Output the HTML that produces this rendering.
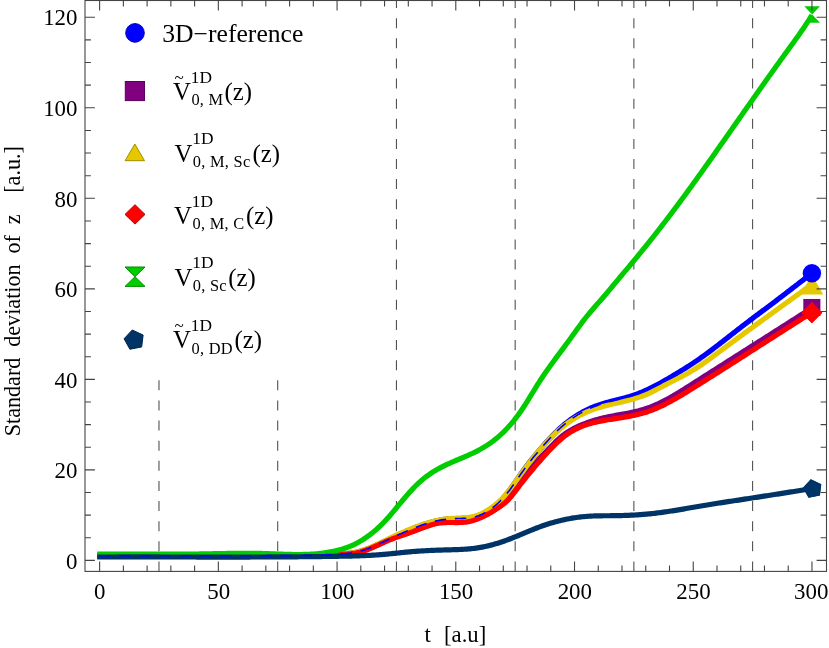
<!DOCTYPE html>
<html><head><meta charset="utf-8"><title>plot</title>
<style>
html,body{margin:0;padding:0;background:#fff;}
body{width:829px;height:648px;overflow:hidden;}
svg{display:block;will-change:transform;}
text{font-family:"Liberation Serif",serif;fill:#000;}
</style></head><body>
<svg width="829" height="648" viewBox="0 0 829 648">
<rect width="829" height="648" fill="#fff"/>
<defs><clipPath id="fc"><rect x="85.0" y="0.5" width="741.5" height="570.9"/></clipPath></defs>
<g clip-path="url(#fc)" stroke="#4a4a4a" stroke-width="1.05" fill="none">
<line x1="396.43" x2="396.43" y1="571.40" y2="-5.00" stroke-dasharray="10 10.12"/>
<line x1="515.16" x2="515.16" y1="571.40" y2="-5.00" stroke-dasharray="10 10.12"/>
<line x1="633.88" x2="633.88" y1="571.40" y2="-5.00" stroke-dasharray="10 10.12"/>
<line x1="752.61" x2="752.61" y1="571.40" y2="-5.00" stroke-dasharray="10 10.12"/>
<line x1="158.98" x2="158.98" y1="571.40" y2="379.80" stroke-dasharray="10 10.12"/>
<line x1="277.71" x2="277.71" y1="571.40" y2="379.80" stroke-dasharray="10 10.12"/>
</g>
<g clip-path="url(#fc)" fill="none" stroke-width="5.2" stroke-linejoin="round" stroke-linecap="square">
<path d="M97.20 555.70 L99.50 555.70 L101.00 555.70 L102.50 555.70 L104.00 555.70 L105.50 555.69 L107.00 555.69 L108.50 555.69 L110.00 555.69 L111.50 555.69 L113.00 555.69 L114.50 555.68 L116.00 555.68 L117.50 555.68 L119.00 555.68 L120.50 555.68 L122.00 555.68 L123.50 555.68 L125.00 555.68 L126.50 555.68 L128.00 555.68 L129.50 555.68 L131.00 555.68 L132.50 555.68 L134.00 555.68 L135.50 555.68 L137.00 555.68 L138.50 555.68 L140.00 555.69 L141.50 555.69 L143.00 555.69 L144.50 555.69 L146.00 555.69 L147.50 555.69 L149.00 555.69 L150.50 555.69 L152.00 555.70 L153.50 555.70 L155.00 555.70 L156.50 555.70 L158.00 555.70 L159.50 555.70 L161.00 555.70 L162.50 555.71 L164.00 555.71 L165.50 555.71 L167.00 555.71 L168.50 555.71 L170.00 555.71 L171.50 555.72 L173.00 555.72 L174.50 555.72 L176.00 555.72 L177.50 555.72 L179.00 555.73 L180.50 555.73 L182.00 555.73 L183.50 555.73 L185.00 555.73 L186.50 555.73 L188.00 555.74 L189.50 555.74 L191.00 555.74 L192.50 555.74 L194.00 555.74 L195.50 555.74 L197.00 555.74 L198.50 555.74 L200.00 555.75 L201.50 555.75 L203.00 555.75 L204.50 555.75 L206.00 555.75 L207.50 555.75 L209.00 555.75 L210.50 555.75 L212.00 555.75 L213.50 555.75 L215.00 555.75 L216.50 555.75 L218.00 555.75 L219.50 555.75 L221.00 555.75 L222.50 555.75 L224.00 555.75 L225.50 555.75 L227.00 555.75 L228.50 555.75 L230.00 555.75 L231.50 555.75 L233.00 555.75 L234.50 555.75 L236.00 555.75 L237.50 555.75 L239.00 555.74 L240.50 555.74 L242.00 555.74 L243.50 555.74 L245.00 555.74 L246.50 555.73 L248.00 555.73 L249.50 555.73 L251.00 555.72 L252.50 555.72 L254.00 555.72 L255.50 555.71 L257.00 555.71 L258.50 555.71 L260.00 555.70 L261.50 555.70 L263.00 555.69 L264.50 555.69 L266.00 555.68 L267.50 555.68 L269.00 555.67 L270.50 555.67 L272.00 555.66 L273.50 555.65 L275.00 555.65 L276.50 555.64 L278.00 555.63 L279.50 555.63 L281.00 555.62 L282.50 555.61 L284.00 555.60 L285.50 555.59 L287.00 555.58 L288.50 555.58 L290.00 555.57 L291.50 555.56 L293.00 555.55 L294.50 555.54 L296.00 555.53 L297.50 555.52 L299.00 555.51 L300.50 555.49 L302.00 555.48 L303.50 555.47 L305.00 555.46 L306.50 555.44 L308.00 555.43 L309.50 555.41 L311.00 555.39 L312.50 555.37 L314.00 555.34 L315.50 555.31 L317.00 555.28 L318.50 555.25 L320.00 555.21 L321.50 555.17 L323.00 555.12 L324.50 555.07 L326.00 555.02 L327.50 554.96 L329.00 554.89 L330.50 554.82 L332.00 554.74 L333.50 554.66 L335.00 554.57 L336.50 554.47 L338.00 554.37 L339.50 554.25 L341.00 554.14 L342.50 554.01 L344.00 553.87 L345.50 553.73 L347.00 553.58 L348.50 553.41 L350.00 553.23 L351.50 553.02 L353.00 552.80 L354.50 552.55 L356.00 552.27 L357.50 551.95 L359.00 551.61 L360.50 551.22 L362.00 550.80 L363.50 550.34 L365.00 549.85 L366.50 549.32 L368.00 548.77 L369.50 548.20 L371.00 547.59 L372.50 546.97 L374.00 546.32 L375.50 545.66 L377.00 544.98 L378.50 544.29 L380.00 543.59 L381.50 542.88 L383.00 542.16 L384.50 541.44 L386.00 540.71 L387.50 539.98 L389.00 539.26 L390.50 538.54 L392.00 537.82 L393.50 537.10 L395.00 536.39 L396.50 535.69 L398.00 534.99 L399.50 534.30 L401.00 533.61 L402.50 532.94 L404.00 532.27 L405.50 531.61 L407.00 530.95 L408.50 530.31 L410.00 529.68 L411.50 529.06 L413.00 528.45 L414.50 527.85 L416.00 527.27 L417.50 526.70 L419.00 526.14 L420.50 525.60 L422.00 525.07 L423.50 524.56 L425.00 524.06 L426.50 523.58 L428.00 523.12 L429.50 522.67 L431.00 522.25 L432.50 521.85 L434.00 521.46 L435.50 521.10 L437.00 520.76 L438.50 520.45 L440.00 520.16 L441.50 519.89 L443.00 519.65 L444.50 519.43 L446.00 519.25 L447.50 519.09 L449.00 518.96 L450.50 518.85 L452.00 518.77 L453.50 518.71 L455.00 518.66 L456.50 518.62 L458.00 518.57 L459.50 518.53 L461.00 518.48 L462.50 518.42 L464.00 518.34 L465.50 518.24 L467.00 518.11 L468.50 517.94 L470.00 517.74 L471.50 517.50 L473.00 517.21 L474.50 516.86 L476.00 516.46 L477.50 516.00 L479.00 515.46 L480.50 514.86 L482.00 514.17 L483.50 513.42 L485.00 512.60 L486.50 511.73 L488.00 510.79 L489.50 509.80 L491.00 508.76 L492.50 507.68 L494.00 506.54 L495.50 505.35 L497.00 504.08 L498.50 502.73 L500.00 501.29 L501.50 499.77 L503.00 498.16 L504.50 496.48 L506.00 494.71 L507.50 492.86 L509.00 490.93 L510.50 488.92 L512.00 486.83 L513.50 484.69 L515.00 482.51 L516.50 480.32 L518.00 478.14 L519.50 475.97 L521.00 473.83 L522.50 471.72 L524.00 469.63 L525.50 467.57 L527.00 465.55 L528.50 463.57 L530.00 461.62 L531.50 459.72 L533.00 457.86 L534.50 456.04 L536.00 454.24 L537.50 452.46 L539.00 450.69 L540.50 448.94 L542.00 447.21 L543.50 445.49 L545.00 443.78 L546.50 442.10 L548.00 440.43 L549.50 438.79 L551.00 437.17 L552.50 435.59 L554.00 434.04 L555.50 432.53 L557.00 431.06 L558.50 429.63 L560.00 428.25 L561.50 426.91 L563.00 425.60 L564.50 424.34 L566.00 423.12 L567.50 421.94 L569.00 420.80 L570.50 419.69 L572.00 418.62 L573.50 417.58 L575.00 416.59 L576.50 415.62 L578.00 414.69 L579.50 413.80 L581.00 412.93 L582.50 412.10 L584.00 411.30 L585.50 410.53 L587.00 409.79 L588.50 409.08 L590.00 408.40 L591.50 407.74 L593.00 407.11 L594.50 406.51 L596.00 405.94 L597.50 405.38 L599.00 404.86 L600.50 404.35 L602.00 403.87 L603.50 403.41 L605.00 402.97 L606.50 402.55 L608.00 402.13 L609.50 401.73 L611.00 401.34 L612.50 400.96 L614.00 400.59 L615.50 400.21 L617.00 399.84 L618.50 399.47 L620.00 399.09 L621.50 398.71 L623.00 398.33 L624.50 397.93 L626.00 397.52 L627.50 397.10 L629.00 396.67 L630.50 396.22 L632.00 395.74 L633.50 395.25 L635.00 394.73 L636.50 394.19 L638.00 393.63 L639.50 393.04 L641.00 392.43 L642.50 391.80 L644.00 391.16 L645.50 390.49 L647.00 389.80 L648.50 389.10 L650.00 388.38 L651.50 387.64 L653.00 386.89 L654.50 386.12 L656.00 385.33 L657.50 384.54 L659.00 383.73 L660.50 382.91 L662.00 382.08 L663.50 381.23 L665.00 380.38 L666.50 379.52 L668.00 378.65 L669.50 377.77 L671.00 376.88 L672.50 375.99 L674.00 375.09 L675.50 374.19 L677.00 373.29 L678.50 372.38 L680.00 371.46 L681.50 370.54 L683.00 369.62 L684.50 368.69 L686.00 367.75 L687.50 366.80 L689.00 365.84 L690.50 364.87 L692.00 363.89 L693.50 362.90 L695.00 361.89 L696.50 360.88 L698.00 359.84 L699.50 358.80 L701.00 357.74 L702.50 356.67 L704.00 355.60 L705.50 354.51 L707.00 353.41 L708.50 352.30 L710.00 351.18 L711.50 350.06 L713.00 348.93 L714.50 347.79 L716.00 346.64 L717.50 345.49 L719.00 344.34 L720.50 343.18 L722.00 342.01 L723.50 340.84 L725.00 339.67 L726.50 338.50 L728.00 337.33 L729.50 336.15 L731.00 334.98 L732.50 333.80 L734.00 332.63 L735.50 331.46 L737.00 330.29 L738.50 329.12 L740.00 327.96 L741.50 326.79 L743.00 325.64 L744.50 324.49 L746.00 323.34 L747.50 322.20 L749.00 321.06 L750.50 319.93 L752.00 318.80 L753.50 317.67 L755.00 316.54 L756.50 315.42 L758.00 314.30 L759.50 313.18 L761.00 312.06 L762.50 310.95 L764.00 309.83 L765.50 308.71 L767.00 307.59 L768.50 306.47 L770.00 305.35 L771.50 304.22 L773.00 303.10 L774.50 301.97 L776.00 300.83 L777.50 299.69 L779.00 298.55 L780.50 297.41 L782.00 296.26 L783.50 295.11 L785.00 293.96 L786.50 292.80 L788.00 291.64 L789.50 290.48 L791.00 289.32 L792.50 288.16 L794.00 287.01 L795.50 285.85 L797.00 284.69 L798.50 283.53 L800.00 282.37 L801.50 281.22 L803.00 280.07 L804.50 278.92 L806.00 277.78 L807.50 276.63 L809.00 275.50 L810.50 274.36 L811.90 273.31" stroke="#0000FF" stroke-linecap="butt"/>
<path d="M97.20 555.70 L99.50 555.70 L101.00 555.70 L102.50 555.70 L104.00 555.70 L105.50 555.70 L107.00 555.69 L108.50 555.69 L110.00 555.69 L111.50 555.69 L113.00 555.69 L114.50 555.69 L116.00 555.69 L117.50 555.69 L119.00 555.69 L120.50 555.69 L122.00 555.69 L123.50 555.69 L125.00 555.69 L126.50 555.69 L128.00 555.69 L129.50 555.69 L131.00 555.69 L132.50 555.69 L134.00 555.69 L135.50 555.69 L137.00 555.69 L138.50 555.69 L140.00 555.69 L141.50 555.69 L143.00 555.69 L144.50 555.69 L146.00 555.69 L147.50 555.69 L149.00 555.69 L150.50 555.70 L152.00 555.70 L153.50 555.70 L155.00 555.70 L156.50 555.70 L158.00 555.70 L159.50 555.70 L161.00 555.70 L162.50 555.70 L164.00 555.70 L165.50 555.71 L167.00 555.71 L168.50 555.71 L170.00 555.71 L171.50 555.71 L173.00 555.71 L174.50 555.71 L176.00 555.71 L177.50 555.72 L179.00 555.72 L180.50 555.72 L182.00 555.72 L183.50 555.72 L185.00 555.72 L186.50 555.72 L188.00 555.72 L189.50 555.72 L191.00 555.72 L192.50 555.73 L194.00 555.73 L195.50 555.73 L197.00 555.73 L198.50 555.73 L200.00 555.73 L201.50 555.73 L203.00 555.73 L204.50 555.73 L206.00 555.73 L207.50 555.73 L209.00 555.73 L210.50 555.73 L212.00 555.73 L213.50 555.73 L215.00 555.74 L216.50 555.74 L218.00 555.74 L219.50 555.74 L221.00 555.74 L222.50 555.74 L224.00 555.73 L225.50 555.73 L227.00 555.73 L228.50 555.73 L230.00 555.73 L231.50 555.73 L233.00 555.73 L234.50 555.73 L236.00 555.73 L237.50 555.73 L239.00 555.73 L240.50 555.73 L242.00 555.72 L243.50 555.72 L245.00 555.72 L246.50 555.72 L248.00 555.72 L249.50 555.72 L251.00 555.71 L252.50 555.71 L254.00 555.71 L255.50 555.71 L257.00 555.70 L258.50 555.70 L260.00 555.70 L261.50 555.70 L263.00 555.69 L264.50 555.69 L266.00 555.68 L267.50 555.68 L269.00 555.68 L270.50 555.67 L272.00 555.67 L273.50 555.66 L275.00 555.66 L276.50 555.66 L278.00 555.65 L279.50 555.65 L281.00 555.64 L282.50 555.64 L284.00 555.63 L285.50 555.62 L287.00 555.62 L288.50 555.61 L290.00 555.61 L291.50 555.60 L293.00 555.59 L294.50 555.59 L296.00 555.58 L297.50 555.57 L299.00 555.56 L300.50 555.56 L302.00 555.55 L303.50 555.54 L305.00 555.53 L306.50 555.52 L308.00 555.51 L309.50 555.49 L311.00 555.48 L312.50 555.46 L314.00 555.44 L315.50 555.42 L317.00 555.39 L318.50 555.36 L320.00 555.33 L321.50 555.29 L323.00 555.25 L324.50 555.21 L326.00 555.16 L327.50 555.11 L329.00 555.05 L330.50 554.98 L332.00 554.91 L333.50 554.84 L335.00 554.75 L336.50 554.67 L338.00 554.57 L339.50 554.47 L341.00 554.36 L342.50 554.24 L344.00 554.12 L345.50 553.98 L347.00 553.84 L348.50 553.68 L350.00 553.51 L351.50 553.32 L353.00 553.10 L354.50 552.86 L356.00 552.58 L357.50 552.27 L359.00 551.92 L360.50 551.53 L362.00 551.10 L363.50 550.63 L365.00 550.12 L366.50 549.59 L368.00 549.02 L369.50 548.43 L371.00 547.81 L372.50 547.18 L374.00 546.52 L375.50 545.86 L377.00 545.18 L378.50 544.49 L380.00 543.79 L381.50 543.09 L383.00 542.40 L384.50 541.70 L386.00 541.01 L387.50 540.33 L389.00 539.66 L390.50 539.00 L392.00 538.36 L393.50 537.73 L395.00 537.11 L396.50 536.51 L398.00 535.93 L399.50 535.37 L401.00 534.82 L402.50 534.29 L404.00 533.78 L405.50 533.29 L407.00 532.82 L408.50 532.37 L410.00 531.93 L411.50 531.49 L413.00 531.03 L414.50 530.54 L416.00 530.02 L417.50 529.48 L419.00 528.92 L420.50 528.35 L422.00 527.77 L423.50 527.20 L425.00 526.62 L426.50 526.06 L428.00 525.51 L429.50 524.97 L431.00 524.47 L432.50 523.99 L434.00 523.56 L435.50 523.16 L437.00 522.81 L438.50 522.51 L440.00 522.27 L441.50 522.08 L443.00 521.94 L444.50 521.85 L446.00 521.79 L447.50 521.76 L449.00 521.75 L450.50 521.76 L452.00 521.78 L453.50 521.81 L455.00 521.84 L456.50 521.86 L458.00 521.86 L459.50 521.85 L461.00 521.81 L462.50 521.74 L464.00 521.63 L465.50 521.48 L467.00 521.27 L468.50 521.01 L470.00 520.69 L471.50 520.32 L473.00 519.89 L474.50 519.41 L476.00 518.89 L477.50 518.32 L479.00 517.71 L480.50 517.07 L482.00 516.39 L483.50 515.68 L485.00 514.94 L486.50 514.19 L488.00 513.40 L489.50 512.60 L491.00 511.76 L492.50 510.89 L494.00 509.96 L495.50 508.98 L497.00 507.93 L498.50 506.81 L500.00 505.61 L501.50 504.32 L503.00 502.95 L504.50 501.50 L506.00 499.98 L507.50 498.40 L509.00 496.75 L510.50 495.05 L512.00 493.29 L513.50 491.48 L515.00 489.63 L516.50 487.75 L518.00 485.83 L519.50 483.88 L521.00 481.91 L522.50 479.93 L524.00 477.94 L525.50 475.95 L527.00 473.96 L528.50 471.99 L530.00 470.03 L531.50 468.10 L533.00 466.20 L534.50 464.33 L536.00 462.51 L537.50 460.74 L539.00 459.03 L540.50 457.38 L542.00 455.79 L543.50 454.25 L545.00 452.73 L546.50 451.21 L548.00 449.69 L549.50 448.13 L551.00 446.56 L552.50 444.99 L554.00 443.45 L555.50 441.94 L557.00 440.49 L558.50 439.11 L560.00 437.79 L561.50 436.53 L563.00 435.34 L564.50 434.20 L566.00 433.13 L567.50 432.12 L569.00 431.16 L570.50 430.26 L572.00 429.40 L573.50 428.58 L575.00 427.81 L576.50 427.08 L578.00 426.38 L579.50 425.71 L581.00 425.08 L582.50 424.46 L584.00 423.88 L585.50 423.31 L587.00 422.75 L588.50 422.22 L590.00 421.70 L591.50 421.20 L593.00 420.72 L594.50 420.25 L596.00 419.80 L597.50 419.38 L599.00 418.97 L600.50 418.57 L602.00 418.20 L603.50 417.84 L605.00 417.50 L606.50 417.17 L608.00 416.86 L609.50 416.55 L611.00 416.26 L612.50 415.97 L614.00 415.69 L615.50 415.42 L617.00 415.14 L618.50 414.87 L620.00 414.61 L621.50 414.34 L623.00 414.07 L624.50 413.79 L626.00 413.51 L627.50 413.23 L629.00 412.93 L630.50 412.63 L632.00 412.32 L633.50 411.99 L635.00 411.65 L636.50 411.30 L638.00 410.93 L639.50 410.54 L641.00 410.13 L642.50 409.70 L644.00 409.25 L645.50 408.77 L647.00 408.27 L648.50 407.75 L650.00 407.20 L651.50 406.61 L653.00 406.01 L654.50 405.38 L656.00 404.72 L657.50 404.04 L659.00 403.34 L660.50 402.62 L662.00 401.88 L663.50 401.12 L665.00 400.34 L666.50 399.54 L668.00 398.73 L669.50 397.90 L671.00 397.05 L672.50 396.20 L674.00 395.32 L675.50 394.44 L677.00 393.55 L678.50 392.64 L680.00 391.73 L681.50 390.80 L683.00 389.87 L684.50 388.93 L686.00 387.99 L687.50 387.04 L689.00 386.09 L690.50 385.14 L692.00 384.18 L693.50 383.22 L695.00 382.26 L696.50 381.31 L698.00 380.35 L699.50 379.39 L701.00 378.43 L702.50 377.48 L704.00 376.52 L705.50 375.57 L707.00 374.61 L708.50 373.66 L710.00 372.70 L711.50 371.75 L713.00 370.79 L714.50 369.84 L716.00 368.89 L717.50 367.93 L719.00 366.98 L720.50 366.03 L722.00 365.08 L723.50 364.12 L725.00 363.17 L726.50 362.22 L728.00 361.27 L729.50 360.32 L731.00 359.36 L732.50 358.41 L734.00 357.46 L735.50 356.51 L737.00 355.56 L738.50 354.61 L740.00 353.66 L741.50 352.71 L743.00 351.76 L744.50 350.81 L746.00 349.85 L747.50 348.90 L749.00 347.95 L750.50 347.00 L752.00 346.05 L753.50 345.10 L755.00 344.15 L756.50 343.20 L758.00 342.25 L759.50 341.29 L761.00 340.34 L762.50 339.39 L764.00 338.44 L765.50 337.48 L767.00 336.53 L768.50 335.58 L770.00 334.63 L771.50 333.67 L773.00 332.72 L774.50 331.77 L776.00 330.81 L777.50 329.86 L779.00 328.90 L780.50 327.95 L782.00 326.99 L783.50 326.03 L785.00 325.08 L786.50 324.12 L788.00 323.16 L789.50 322.21 L791.00 321.25 L792.50 320.29 L794.00 319.33 L795.50 318.37 L797.00 317.41 L798.50 316.45 L800.00 315.49 L801.50 314.53 L803.00 313.57 L804.50 312.60 L806.00 311.64 L807.50 310.67 L809.00 309.71 L810.50 308.75 L811.90 307.84" stroke="#800080" stroke-linecap="butt"/>
<path d="M97.20 555.70 L99.50 555.70 L101.00 555.70 L102.50 555.70 L104.00 555.70 L105.50 555.69 L107.00 555.69 L108.50 555.69 L110.00 555.69 L111.50 555.69 L113.00 555.68 L114.50 555.68 L116.00 555.68 L117.50 555.68 L119.00 555.68 L120.50 555.68 L122.00 555.68 L123.50 555.68 L125.00 555.68 L126.50 555.68 L128.00 555.68 L129.50 555.68 L131.00 555.68 L132.50 555.68 L134.00 555.68 L135.50 555.68 L137.00 555.68 L138.50 555.68 L140.00 555.68 L141.50 555.68 L143.00 555.68 L144.50 555.68 L146.00 555.69 L147.50 555.69 L149.00 555.69 L150.50 555.69 L152.00 555.69 L153.50 555.69 L155.00 555.69 L156.50 555.70 L158.00 555.70 L159.50 555.70 L161.00 555.70 L162.50 555.70 L164.00 555.70 L165.50 555.71 L167.00 555.71 L168.50 555.71 L170.00 555.71 L171.50 555.71 L173.00 555.72 L174.50 555.72 L176.00 555.72 L177.50 555.72 L179.00 555.72 L180.50 555.73 L182.00 555.73 L183.50 555.73 L185.00 555.73 L186.50 555.73 L188.00 555.74 L189.50 555.74 L191.00 555.74 L192.50 555.74 L194.00 555.74 L195.50 555.75 L197.00 555.75 L198.50 555.75 L200.00 555.75 L201.50 555.75 L203.00 555.75 L204.50 555.75 L206.00 555.76 L207.50 555.76 L209.00 555.76 L210.50 555.76 L212.00 555.76 L213.50 555.76 L215.00 555.76 L216.50 555.76 L218.00 555.76 L219.50 555.76 L221.00 555.76 L222.50 555.76 L224.00 555.76 L225.50 555.76 L227.00 555.76 L228.50 555.76 L230.00 555.76 L231.50 555.76 L233.00 555.76 L234.50 555.76 L236.00 555.76 L237.50 555.75 L239.00 555.75 L240.50 555.75 L242.00 555.75 L243.50 555.75 L245.00 555.74 L246.50 555.74 L248.00 555.74 L249.50 555.74 L251.00 555.73 L252.50 555.73 L254.00 555.73 L255.50 555.72 L257.00 555.72 L258.50 555.71 L260.00 555.71 L261.50 555.71 L263.00 555.70 L264.50 555.70 L266.00 555.69 L267.50 555.68 L269.00 555.68 L270.50 555.67 L272.00 555.67 L273.50 555.66 L275.00 555.65 L276.50 555.65 L278.00 555.64 L279.50 555.63 L281.00 555.62 L282.50 555.61 L284.00 555.61 L285.50 555.60 L287.00 555.59 L288.50 555.58 L290.00 555.57 L291.50 555.56 L293.00 555.55 L294.50 555.54 L296.00 555.53 L297.50 555.51 L299.00 555.50 L300.50 555.49 L302.00 555.48 L303.50 555.46 L305.00 555.45 L306.50 555.43 L308.00 555.42 L309.50 555.40 L311.00 555.38 L312.50 555.35 L314.00 555.33 L315.50 555.30 L317.00 555.26 L318.50 555.23 L320.00 555.19 L321.50 555.14 L323.00 555.09 L324.50 555.04 L326.00 554.98 L327.50 554.91 L329.00 554.84 L330.50 554.77 L332.00 554.68 L333.50 554.59 L335.00 554.50 L336.50 554.39 L338.00 554.28 L339.50 554.16 L341.00 554.04 L342.50 553.90 L344.00 553.76 L345.50 553.60 L347.00 553.44 L348.50 553.26 L350.00 553.07 L351.50 552.85 L353.00 552.61 L354.50 552.35 L356.00 552.05 L357.50 551.72 L359.00 551.35 L360.50 550.94 L362.00 550.50 L363.50 550.02 L365.00 549.50 L366.50 548.95 L368.00 548.38 L369.50 547.78 L371.00 547.15 L372.50 546.50 L374.00 545.83 L375.50 545.15 L377.00 544.45 L378.50 543.74 L380.00 543.02 L381.50 542.29 L383.00 541.56 L384.50 540.82 L386.00 540.09 L387.50 539.36 L389.00 538.63 L390.50 537.91 L392.00 537.20 L393.50 536.49 L395.00 535.79 L396.50 535.10 L398.00 534.42 L399.50 533.74 L401.00 533.08 L402.50 532.42 L404.00 531.77 L405.50 531.13 L407.00 530.50 L408.50 529.88 L410.00 529.27 L411.50 528.67 L413.00 528.09 L414.50 527.51 L416.00 526.94 L417.50 526.39 L419.00 525.84 L420.50 525.31 L422.00 524.79 L423.50 524.29 L425.00 523.80 L426.50 523.32 L428.00 522.87 L429.50 522.42 L431.00 522.00 L432.50 521.60 L434.00 521.21 L435.50 520.84 L437.00 520.50 L438.50 520.18 L440.00 519.88 L441.50 519.61 L443.00 519.36 L444.50 519.13 L446.00 518.93 L447.50 518.76 L449.00 518.62 L450.50 518.51 L452.00 518.41 L453.50 518.34 L455.00 518.27 L456.50 518.22 L458.00 518.16 L459.50 518.10 L461.00 518.04 L462.50 517.95 L464.00 517.85 L465.50 517.73 L467.00 517.58 L468.50 517.39 L470.00 517.16 L471.50 516.89 L473.00 516.56 L474.50 516.19 L476.00 515.75 L477.50 515.24 L479.00 514.67 L480.50 514.03 L482.00 513.32 L483.50 512.56 L485.00 511.73 L486.50 510.86 L488.00 509.93 L489.50 508.95 L491.00 507.94 L492.50 506.88 L494.00 505.77 L495.50 504.61 L497.00 503.39 L498.50 502.09 L500.00 500.71 L501.50 499.25 L503.00 497.68 L504.50 496.01 L506.00 494.25 L507.50 492.41 L509.00 490.50 L510.50 488.53 L512.00 486.52 L513.50 484.47 L515.00 482.39 L516.50 480.30 L518.00 478.20 L519.50 476.10 L521.00 474.01 L522.50 471.94 L524.00 469.87 L525.50 467.83 L527.00 465.81 L528.50 463.81 L530.00 461.85 L531.50 459.92 L533.00 458.03 L534.50 456.18 L536.00 454.34 L537.50 452.53 L539.00 450.75 L540.50 449.00 L542.00 447.27 L543.50 445.57 L545.00 443.90 L546.50 442.27 L548.00 440.66 L549.50 439.09 L551.00 437.56 L552.50 436.06 L554.00 434.59 L555.50 433.17 L557.00 431.78 L558.50 430.44 L560.00 429.13 L561.50 427.86 L563.00 426.63 L564.50 425.44 L566.00 424.29 L567.50 423.18 L569.00 422.10 L570.50 421.06 L572.00 420.06 L573.50 419.09 L575.00 418.16 L576.50 417.27 L578.00 416.41 L579.50 415.59 L581.00 414.81 L582.50 414.06 L584.00 413.34 L585.50 412.65 L587.00 411.99 L588.50 411.36 L590.00 410.76 L591.50 410.19 L593.00 409.64 L594.50 409.11 L596.00 408.60 L597.50 408.12 L599.00 407.65 L600.50 407.20 L602.00 406.77 L603.50 406.35 L605.00 405.95 L606.50 405.56 L608.00 405.18 L609.50 404.80 L611.00 404.44 L612.50 404.08 L614.00 403.73 L615.50 403.38 L617.00 403.04 L618.50 402.70 L620.00 402.35 L621.50 402.01 L623.00 401.66 L624.50 401.31 L626.00 400.95 L627.50 400.58 L629.00 400.20 L630.50 399.81 L632.00 399.41 L633.50 398.99 L635.00 398.55 L636.50 398.10 L638.00 397.62 L639.50 397.13 L641.00 396.61 L642.50 396.06 L644.00 395.49 L645.50 394.88 L647.00 394.25 L648.50 393.59 L650.00 392.89 L651.50 392.17 L653.00 391.42 L654.50 390.65 L656.00 389.86 L657.50 389.07 L659.00 388.27 L660.50 387.47 L662.00 386.67 L663.50 385.88 L665.00 385.10 L666.50 384.32 L668.00 383.55 L669.50 382.79 L671.00 382.03 L672.50 381.27 L674.00 380.51 L675.50 379.75 L677.00 378.98 L678.50 378.21 L680.00 377.44 L681.50 376.65 L683.00 375.86 L684.50 375.05 L686.00 374.23 L687.50 373.40 L689.00 372.55 L690.50 371.68 L692.00 370.80 L693.50 369.89 L695.00 368.96 L696.50 368.01 L698.00 367.04 L699.50 366.05 L701.00 365.04 L702.50 364.01 L704.00 362.96 L705.50 361.90 L707.00 360.83 L708.50 359.75 L710.00 358.66 L711.50 357.56 L713.00 356.46 L714.50 355.35 L716.00 354.23 L717.50 353.12 L719.00 352.00 L720.50 350.89 L722.00 349.77 L723.50 348.66 L725.00 347.55 L726.50 346.44 L728.00 345.33 L729.50 344.22 L731.00 343.12 L732.50 342.01 L734.00 340.91 L735.50 339.80 L737.00 338.70 L738.50 337.60 L740.00 336.50 L741.50 335.40 L743.00 334.31 L744.50 333.21 L746.00 332.11 L747.50 331.02 L749.00 329.93 L750.50 328.83 L752.00 327.74 L753.50 326.65 L755.00 325.56 L756.50 324.47 L758.00 323.38 L759.50 322.29 L761.00 321.20 L762.50 320.11 L764.00 319.02 L765.50 317.94 L767.00 316.85 L768.50 315.76 L770.00 314.68 L771.50 313.59 L773.00 312.51 L774.50 311.42 L776.00 310.34 L777.50 309.25 L779.00 308.17 L780.50 307.08 L782.00 306.00 L783.50 304.91 L785.00 303.83 L786.50 302.75 L788.00 301.66 L789.50 300.58 L791.00 299.49 L792.50 298.41 L794.00 297.32 L795.50 296.24 L797.00 295.15 L798.50 294.07 L800.00 292.98 L801.50 291.89 L803.00 290.81 L804.50 289.72 L806.00 288.63 L807.50 287.55 L809.00 286.46 L810.50 285.37 L811.90 284.35" stroke="#E6C800" stroke-linecap="butt"/>
<path d="M97.20 555.70 L99.50 555.70 L101.00 555.70 L102.50 555.70 L104.00 555.70 L105.50 555.69 L107.00 555.69 L108.50 555.69 L110.00 555.69 L111.50 555.69 L113.00 555.69 L114.50 555.68 L116.00 555.68 L117.50 555.68 L119.00 555.68 L120.50 555.68 L122.00 555.68 L123.50 555.68 L125.00 555.68 L126.50 555.68 L128.00 555.68 L129.50 555.68 L131.00 555.68 L132.50 555.68 L134.00 555.68 L135.50 555.68 L137.00 555.68 L138.50 555.68 L140.00 555.68 L141.50 555.68 L143.00 555.68 L144.50 555.68 L146.00 555.68 L147.50 555.69 L149.00 555.69 L150.50 555.69 L152.00 555.69 L153.50 555.69 L155.00 555.69 L156.50 555.69 L158.00 555.69 L159.50 555.70 L161.00 555.70 L162.50 555.70 L164.00 555.70 L165.50 555.70 L167.00 555.70 L168.50 555.71 L170.00 555.71 L171.50 555.71 L173.00 555.71 L174.50 555.71 L176.00 555.71 L177.50 555.72 L179.00 555.72 L180.50 555.72 L182.00 555.72 L183.50 555.72 L185.00 555.73 L186.50 555.73 L188.00 555.73 L189.50 555.73 L191.00 555.73 L192.50 555.73 L194.00 555.73 L195.50 555.74 L197.00 555.74 L198.50 555.74 L200.00 555.74 L201.50 555.74 L203.00 555.74 L204.50 555.74 L206.00 555.75 L207.50 555.75 L209.00 555.75 L210.50 555.75 L212.00 555.75 L213.50 555.75 L215.00 555.75 L216.50 555.75 L218.00 555.75 L219.50 555.75 L221.00 555.75 L222.50 555.75 L224.00 555.75 L225.50 555.75 L227.00 555.75 L228.50 555.75 L230.00 555.75 L231.50 555.75 L233.00 555.75 L234.50 555.75 L236.00 555.75 L237.50 555.75 L239.00 555.75 L240.50 555.75 L242.00 555.74 L243.50 555.74 L245.00 555.74 L246.50 555.74 L248.00 555.74 L249.50 555.73 L251.00 555.73 L252.50 555.73 L254.00 555.73 L255.50 555.72 L257.00 555.72 L258.50 555.72 L260.00 555.71 L261.50 555.71 L263.00 555.71 L264.50 555.70 L266.00 555.70 L267.50 555.69 L269.00 555.69 L270.50 555.68 L272.00 555.68 L273.50 555.67 L275.00 555.67 L276.50 555.66 L278.00 555.65 L279.50 555.65 L281.00 555.64 L282.50 555.63 L284.00 555.63 L285.50 555.62 L287.00 555.61 L288.50 555.60 L290.00 555.60 L291.50 555.59 L293.00 555.58 L294.50 555.57 L296.00 555.56 L297.50 555.55 L299.00 555.54 L300.50 555.53 L302.00 555.52 L303.50 555.51 L305.00 555.50 L306.50 555.49 L308.00 555.47 L309.50 555.46 L311.00 555.44 L312.50 555.42 L314.00 555.40 L315.50 555.38 L317.00 555.35 L318.50 555.33 L320.00 555.30 L321.50 555.26 L323.00 555.23 L324.50 555.19 L326.00 555.14 L327.50 555.10 L329.00 555.05 L330.50 554.99 L332.00 554.93 L333.50 554.87 L335.00 554.80 L336.50 554.72 L338.00 554.65 L339.50 554.56 L341.00 554.47 L342.50 554.38 L344.00 554.28 L345.50 554.17 L347.00 554.05 L348.50 553.92 L350.00 553.78 L351.50 553.62 L353.00 553.42 L354.50 553.20 L356.00 552.95 L357.50 552.66 L359.00 552.32 L360.50 551.94 L362.00 551.51 L363.50 551.04 L365.00 550.54 L366.50 549.99 L368.00 549.42 L369.50 548.82 L371.00 548.20 L372.50 547.55 L374.00 546.90 L375.50 546.22 L377.00 545.54 L378.50 544.86 L380.00 544.17 L381.50 543.48 L383.00 542.80 L384.50 542.13 L386.00 541.47 L387.50 540.82 L389.00 540.20 L390.50 539.60 L392.00 539.01 L393.50 538.45 L395.00 537.89 L396.50 537.35 L398.00 536.82 L399.50 536.30 L401.00 535.78 L402.50 535.26 L404.00 534.75 L405.50 534.24 L407.00 533.72 L408.50 533.20 L410.00 532.67 L411.50 532.13 L413.00 531.58 L414.50 531.01 L416.00 530.44 L417.50 529.86 L419.00 529.27 L420.50 528.69 L422.00 528.12 L423.50 527.55 L425.00 526.99 L426.50 526.45 L428.00 525.94 L429.50 525.44 L431.00 524.98 L432.50 524.54 L434.00 524.14 L435.50 523.79 L437.00 523.47 L438.50 523.20 L440.00 522.98 L441.50 522.81 L443.00 522.69 L444.50 522.60 L446.00 522.54 L447.50 522.51 L449.00 522.49 L450.50 522.50 L452.00 522.51 L453.50 522.52 L455.00 522.54 L456.50 522.54 L458.00 522.54 L459.50 522.51 L461.00 522.46 L462.50 522.38 L464.00 522.26 L465.50 522.11 L467.00 521.90 L468.50 521.65 L470.00 521.34 L471.50 520.98 L473.00 520.56 L474.50 520.10 L476.00 519.59 L477.50 519.04 L479.00 518.44 L480.50 517.81 L482.00 517.13 L483.50 516.42 L485.00 515.67 L486.50 514.89 L488.00 514.09 L489.50 513.25 L491.00 512.38 L492.50 511.48 L494.00 510.56 L495.50 509.61 L497.00 508.63 L498.50 507.63 L500.00 506.60 L501.50 505.54 L503.00 504.42 L504.50 503.24 L506.00 501.95 L507.50 500.56 L509.00 499.03 L510.50 497.34 L512.00 495.52 L513.50 493.60 L515.00 491.62 L516.50 489.62 L518.00 487.64 L519.50 485.68 L521.00 483.74 L522.50 481.82 L524.00 479.93 L525.50 478.05 L527.00 476.20 L528.50 474.36 L530.00 472.54 L531.50 470.74 L533.00 468.96 L534.50 467.18 L536.00 465.43 L537.50 463.68 L539.00 461.95 L540.50 460.23 L542.00 458.51 L543.50 456.82 L545.00 455.13 L546.50 453.47 L548.00 451.84 L549.50 450.23 L551.00 448.64 L552.50 447.09 L554.00 445.58 L555.50 444.11 L557.00 442.68 L558.50 441.29 L560.00 439.95 L561.50 438.67 L563.00 437.44 L564.50 436.26 L566.00 435.15 L567.50 434.09 L569.00 433.09 L570.50 432.14 L572.00 431.24 L573.50 430.38 L575.00 429.58 L576.50 428.82 L578.00 428.10 L579.50 427.42 L581.00 426.78 L582.50 426.18 L584.00 425.61 L585.50 425.08 L587.00 424.58 L588.50 424.11 L590.00 423.66 L591.50 423.25 L593.00 422.85 L594.50 422.48 L596.00 422.13 L597.50 421.79 L599.00 421.47 L600.50 421.17 L602.00 420.87 L603.50 420.59 L605.00 420.32 L606.50 420.06 L608.00 419.81 L609.50 419.56 L611.00 419.32 L612.50 419.08 L614.00 418.84 L615.50 418.61 L617.00 418.38 L618.50 418.14 L620.00 417.90 L621.50 417.66 L623.00 417.42 L624.50 417.17 L626.00 416.91 L627.50 416.65 L629.00 416.37 L630.50 416.09 L632.00 415.79 L633.50 415.48 L635.00 415.16 L636.50 414.82 L638.00 414.47 L639.50 414.09 L641.00 413.70 L642.50 413.29 L644.00 412.85 L645.50 412.40 L647.00 411.92 L648.50 411.41 L650.00 410.88 L651.50 410.32 L653.00 409.74 L654.50 409.14 L656.00 408.51 L657.50 407.86 L659.00 407.19 L660.50 406.50 L662.00 405.79 L663.50 405.06 L665.00 404.31 L666.50 403.55 L668.00 402.77 L669.50 401.97 L671.00 401.16 L672.50 400.33 L674.00 399.49 L675.50 398.64 L677.00 397.78 L678.50 396.91 L680.00 396.03 L681.50 395.14 L683.00 394.24 L684.50 393.33 L686.00 392.42 L687.50 391.50 L689.00 390.57 L690.50 389.64 L692.00 388.71 L693.50 387.78 L695.00 386.84 L696.50 385.90 L698.00 384.97 L699.50 384.03 L701.00 383.09 L702.50 382.14 L704.00 381.20 L705.50 380.26 L707.00 379.31 L708.50 378.37 L710.00 377.42 L711.50 376.47 L713.00 375.53 L714.50 374.58 L716.00 373.63 L717.50 372.68 L719.00 371.73 L720.50 370.78 L722.00 369.82 L723.50 368.87 L725.00 367.92 L726.50 366.96 L728.00 366.01 L729.50 365.05 L731.00 364.10 L732.50 363.14 L734.00 362.19 L735.50 361.23 L737.00 360.27 L738.50 359.31 L740.00 358.35 L741.50 357.40 L743.00 356.44 L744.50 355.48 L746.00 354.52 L747.50 353.56 L749.00 352.60 L750.50 351.64 L752.00 350.68 L753.50 349.72 L755.00 348.76 L756.50 347.80 L758.00 346.84 L759.50 345.88 L761.00 344.92 L762.50 343.96 L764.00 343.00 L765.50 342.04 L767.00 341.08 L768.50 340.12 L770.00 339.16 L771.50 338.20 L773.00 337.24 L774.50 336.28 L776.00 335.33 L777.50 334.37 L779.00 333.41 L780.50 332.45 L782.00 331.49 L783.50 330.54 L785.00 329.58 L786.50 328.63 L788.00 327.67 L789.50 326.72 L791.00 325.76 L792.50 324.81 L794.00 323.86 L795.50 322.90 L797.00 321.95 L798.50 321.00 L800.00 320.05 L801.50 319.10 L803.00 318.15 L804.50 317.20 L806.00 316.26 L807.50 315.31 L809.00 314.36 L810.50 313.42 L811.90 312.54" stroke="#FF0000" stroke-linecap="butt"/>
<path d="M97.20 554.10 L99.50 554.10 L101.00 554.09 L102.50 554.07 L104.00 554.06 L105.50 554.05 L107.00 554.03 L108.50 554.03 L110.00 554.02 L111.50 554.01 L113.00 554.00 L114.50 554.00 L116.00 554.00 L117.50 553.99 L119.00 553.99 L120.50 553.99 L122.00 553.99 L123.50 553.99 L125.00 553.99 L126.50 553.99 L128.00 554.00 L129.50 554.00 L131.00 554.00 L132.50 554.01 L134.00 554.01 L135.50 554.02 L137.00 554.03 L138.50 554.03 L140.00 554.04 L141.50 554.04 L143.00 554.05 L144.50 554.06 L146.00 554.07 L147.50 554.07 L149.00 554.08 L150.50 554.09 L152.00 554.09 L153.50 554.10 L155.00 554.11 L156.50 554.11 L158.00 554.12 L159.50 554.12 L161.00 554.13 L162.50 554.13 L164.00 554.14 L165.50 554.14 L167.00 554.15 L168.50 554.15 L170.00 554.15 L171.50 554.15 L173.00 554.15 L174.50 554.15 L176.00 554.15 L177.50 554.15 L179.00 554.15 L180.50 554.14 L182.00 554.14 L183.50 554.13 L185.00 554.12 L186.50 554.11 L188.00 554.10 L189.50 554.09 L191.00 554.08 L192.50 554.07 L194.00 554.05 L195.50 554.03 L197.00 554.02 L198.50 554.00 L200.00 553.97 L201.50 553.95 L203.00 553.93 L204.50 553.90 L206.00 553.87 L207.50 553.84 L209.00 553.81 L210.50 553.78 L212.00 553.75 L213.50 553.72 L215.00 553.69 L216.50 553.66 L218.00 553.63 L219.50 553.60 L221.00 553.57 L222.50 553.54 L224.00 553.51 L225.50 553.48 L227.00 553.45 L228.50 553.42 L230.00 553.40 L231.50 553.38 L233.00 553.35 L234.50 553.33 L236.00 553.31 L237.50 553.30 L239.00 553.28 L240.50 553.27 L242.00 553.26 L243.50 553.26 L245.00 553.26 L246.50 553.26 L248.00 553.26 L249.50 553.26 L251.00 553.27 L252.50 553.29 L254.00 553.31 L255.50 553.33 L257.00 553.35 L258.50 553.38 L260.00 553.42 L261.50 553.46 L263.00 553.50 L264.50 553.55 L266.00 553.60 L267.50 553.65 L269.00 553.70 L270.50 553.76 L272.00 553.82 L273.50 553.88 L275.00 553.93 L276.50 553.99 L278.00 554.05 L279.50 554.11 L281.00 554.16 L282.50 554.21 L284.00 554.26 L285.50 554.31 L287.00 554.35 L288.50 554.39 L290.00 554.43 L291.50 554.45 L293.00 554.48 L294.50 554.50 L296.00 554.51 L297.50 554.51 L299.00 554.51 L300.50 554.50 L302.00 554.48 L303.50 554.45 L305.00 554.41 L306.50 554.37 L308.00 554.31 L309.50 554.24 L311.00 554.16 L312.50 554.07 L314.00 553.97 L315.50 553.85 L317.00 553.73 L318.50 553.58 L320.00 553.43 L321.50 553.26 L323.00 553.07 L324.50 552.87 L326.00 552.65 L327.50 552.42 L329.00 552.17 L330.50 551.90 L332.00 551.61 L333.50 551.30 L335.00 550.98 L336.50 550.63 L338.00 550.26 L339.50 549.86 L341.00 549.44 L342.50 549.00 L344.00 548.52 L345.50 548.01 L347.00 547.48 L348.50 546.91 L350.00 546.31 L351.50 545.68 L353.00 545.01 L354.50 544.30 L356.00 543.55 L357.50 542.77 L359.00 541.94 L360.50 541.08 L362.00 540.18 L363.50 539.23 L365.00 538.24 L366.50 537.22 L368.00 536.15 L369.50 535.04 L371.00 533.88 L372.50 532.69 L374.00 531.45 L375.50 530.17 L377.00 528.84 L378.50 527.47 L380.00 526.05 L381.50 524.59 L383.00 523.09 L384.50 521.54 L386.00 519.95 L387.50 518.31 L389.00 516.64 L390.50 514.93 L392.00 513.18 L393.50 511.40 L395.00 509.60 L396.50 507.77 L398.00 505.94 L399.50 504.12 L401.00 502.30 L402.50 500.50 L404.00 498.72 L405.50 496.95 L407.00 495.22 L408.50 493.51 L410.00 491.84 L411.50 490.20 L413.00 488.60 L414.50 487.05 L416.00 485.54 L417.50 484.08 L419.00 482.67 L420.50 481.32 L422.00 480.02 L423.50 478.78 L425.00 477.58 L426.50 476.43 L428.00 475.33 L429.50 474.27 L431.00 473.25 L432.50 472.28 L434.00 471.33 L435.50 470.43 L437.00 469.56 L438.50 468.71 L440.00 467.90 L441.50 467.11 L443.00 466.35 L444.50 465.61 L446.00 464.89 L447.50 464.19 L449.00 463.51 L450.50 462.84 L452.00 462.18 L453.50 461.53 L455.00 460.89 L456.50 460.25 L458.00 459.62 L459.50 458.99 L461.00 458.36 L462.50 457.73 L464.00 457.09 L465.50 456.44 L467.00 455.79 L468.50 455.13 L470.00 454.45 L471.50 453.76 L473.00 453.05 L474.50 452.33 L476.00 451.58 L477.50 450.82 L479.00 450.02 L480.50 449.21 L482.00 448.36 L483.50 447.48 L485.00 446.58 L486.50 445.63 L488.00 444.66 L489.50 443.64 L491.00 442.58 L492.50 441.49 L494.00 440.35 L495.50 439.16 L497.00 437.93 L498.50 436.66 L500.00 435.34 L501.50 433.96 L503.00 432.54 L504.50 431.06 L506.00 429.53 L507.50 427.95 L509.00 426.31 L510.50 424.61 L512.00 422.85 L513.50 421.03 L515.00 419.15 L516.50 417.21 L518.00 415.20 L519.50 413.13 L521.00 410.99 L522.50 408.78 L524.00 406.50 L525.50 404.16 L527.00 401.77 L528.50 399.35 L530.00 396.91 L531.50 394.45 L533.00 391.98 L534.50 389.53 L536.00 387.09 L537.50 384.68 L539.00 382.32 L540.50 380.00 L542.00 377.73 L543.50 375.49 L545.00 373.30 L546.50 371.13 L548.00 369.00 L549.50 366.89 L551.00 364.81 L552.50 362.74 L554.00 360.70 L555.50 358.66 L557.00 356.64 L558.50 354.62 L560.00 352.61 L561.50 350.60 L563.00 348.59 L564.50 346.58 L566.00 344.55 L567.50 342.52 L569.00 340.47 L570.50 338.41 L572.00 336.33 L573.50 334.25 L575.00 332.16 L576.50 330.08 L578.00 328.01 L579.50 325.96 L581.00 323.92 L582.50 321.92 L584.00 319.95 L585.50 318.01 L587.00 316.13 L588.50 314.28 L590.00 312.48 L591.50 310.71 L593.00 308.97 L594.50 307.25 L596.00 305.54 L597.50 303.84 L599.00 302.13 L600.50 300.43 L602.00 298.71 L603.50 296.97 L605.00 295.22 L606.50 293.45 L608.00 291.66 L609.50 289.87 L611.00 288.07 L612.50 286.27 L614.00 284.46 L615.50 282.66 L617.00 280.85 L618.50 279.06 L620.00 277.26 L621.50 275.48 L623.00 273.69 L624.50 271.91 L626.00 270.13 L627.50 268.35 L629.00 266.56 L630.50 264.77 L632.00 262.98 L633.50 261.18 L635.00 259.37 L636.50 257.55 L638.00 255.73 L639.50 253.90 L641.00 252.07 L642.50 250.23 L644.00 248.38 L645.50 246.52 L647.00 244.66 L648.50 242.79 L650.00 240.91 L651.50 239.03 L653.00 237.14 L654.50 235.24 L656.00 233.33 L657.50 231.42 L659.00 229.50 L660.50 227.57 L662.00 225.64 L663.50 223.69 L665.00 221.74 L666.50 219.78 L668.00 217.82 L669.50 215.85 L671.00 213.87 L672.50 211.88 L674.00 209.88 L675.50 207.88 L677.00 205.87 L678.50 203.85 L680.00 201.83 L681.50 199.80 L683.00 197.77 L684.50 195.72 L686.00 193.68 L687.50 191.62 L689.00 189.56 L690.50 187.50 L692.00 185.43 L693.50 183.35 L695.00 181.27 L696.50 179.19 L698.00 177.10 L699.50 175.01 L701.00 172.91 L702.50 170.81 L704.00 168.70 L705.50 166.60 L707.00 164.48 L708.50 162.37 L710.00 160.25 L711.50 158.13 L713.00 156.00 L714.50 153.88 L716.00 151.75 L717.50 149.62 L719.00 147.49 L720.50 145.35 L722.00 143.21 L723.50 141.08 L725.00 138.94 L726.50 136.80 L728.00 134.66 L729.50 132.51 L731.00 130.37 L732.50 128.23 L734.00 126.09 L735.50 123.94 L737.00 121.80 L738.50 119.66 L740.00 117.52 L741.50 115.38 L743.00 113.23 L744.50 111.10 L746.00 108.96 L747.50 106.82 L749.00 104.69 L750.50 102.55 L752.00 100.42 L753.50 98.29 L755.00 96.16 L756.50 94.04 L758.00 91.92 L759.50 89.79 L761.00 87.68 L762.50 85.56 L764.00 83.44 L765.50 81.33 L767.00 79.22 L768.50 77.11 L770.00 75.01 L771.50 72.90 L773.00 70.80 L774.50 68.71 L776.00 66.61 L777.50 64.52 L779.00 62.43 L780.50 60.34 L782.00 58.26 L783.50 56.18 L785.00 54.10 L786.50 52.03 L788.00 49.95 L789.50 47.89 L791.00 45.82 L792.50 43.75 L794.00 41.68 L795.50 39.60 L797.00 37.51 L798.50 35.40 L800.00 33.26 L801.50 31.11 L803.00 28.92 L804.50 26.70 L806.00 24.43 L807.50 22.13 L809.00 19.78 L810.50 17.38 L811.90 15.09" stroke="#00CC00" stroke-linecap="butt"/>
<path d="M97.20 557.02 L99.50 557.02 L101.00 557.01 L102.50 557.01 L104.00 557.00 L105.50 557.00 L107.00 556.99 L108.50 556.99 L110.00 556.99 L111.50 556.98 L113.00 556.98 L114.50 556.98 L116.00 556.98 L117.50 556.97 L119.00 556.97 L120.50 556.97 L122.00 556.97 L123.50 556.97 L125.00 556.96 L126.50 556.96 L128.00 556.96 L129.50 556.96 L131.00 556.96 L132.50 556.96 L134.00 556.96 L135.50 556.96 L137.00 556.96 L138.50 556.96 L140.00 556.96 L141.50 556.96 L143.00 556.96 L144.50 556.96 L146.00 556.96 L147.50 556.96 L149.00 556.96 L150.50 556.97 L152.00 556.97 L153.50 556.97 L155.00 556.97 L156.50 556.97 L158.00 556.97 L159.50 556.97 L161.00 556.98 L162.50 556.98 L164.00 556.98 L165.50 556.98 L167.00 556.98 L168.50 556.99 L170.00 556.99 L171.50 556.99 L173.00 556.99 L174.50 556.99 L176.00 557.00 L177.50 557.00 L179.00 557.00 L180.50 557.00 L182.00 557.01 L183.50 557.01 L185.00 557.01 L186.50 557.01 L188.00 557.01 L189.50 557.02 L191.00 557.02 L192.50 557.02 L194.00 557.02 L195.50 557.02 L197.00 557.03 L198.50 557.03 L200.00 557.03 L201.50 557.03 L203.00 557.03 L204.50 557.04 L206.00 557.04 L207.50 557.04 L209.00 557.04 L210.50 557.04 L212.00 557.04 L213.50 557.04 L215.00 557.04 L216.50 557.04 L218.00 557.05 L219.50 557.05 L221.00 557.05 L222.50 557.05 L224.00 557.05 L225.50 557.05 L227.00 557.05 L228.50 557.05 L230.00 557.05 L231.50 557.05 L233.00 557.05 L234.50 557.04 L236.00 557.04 L237.50 557.04 L239.00 557.04 L240.50 557.04 L242.00 557.04 L243.50 557.04 L245.00 557.03 L246.50 557.03 L248.00 557.03 L249.50 557.03 L251.00 557.02 L252.50 557.02 L254.00 557.02 L255.50 557.01 L257.00 557.01 L258.50 557.00 L260.00 557.00 L261.50 556.99 L263.00 556.99 L264.50 556.98 L266.00 556.98 L267.50 556.97 L269.00 556.97 L270.50 556.96 L272.00 556.95 L273.50 556.95 L275.00 556.94 L276.50 556.93 L278.00 556.92 L279.50 556.91 L281.00 556.91 L282.50 556.90 L284.00 556.89 L285.50 556.88 L287.00 556.87 L288.50 556.86 L290.00 556.85 L291.50 556.84 L293.00 556.82 L294.50 556.81 L296.00 556.80 L297.50 556.79 L299.00 556.77 L300.50 556.76 L302.00 556.75 L303.50 556.73 L305.00 556.72 L306.50 556.70 L308.00 556.69 L309.50 556.67 L311.00 556.66 L312.50 556.64 L314.00 556.62 L315.50 556.61 L317.00 556.59 L318.50 556.57 L320.00 556.55 L321.50 556.53 L323.00 556.51 L324.50 556.49 L326.00 556.47 L327.50 556.45 L329.00 556.43 L330.50 556.41 L332.00 556.38 L333.50 556.36 L335.00 556.34 L336.50 556.31 L338.00 556.29 L339.50 556.26 L341.00 556.24 L342.50 556.21 L344.00 556.18 L345.50 556.15 L347.00 556.12 L348.50 556.09 L350.00 556.06 L351.50 556.03 L353.00 555.99 L354.50 555.95 L356.00 555.91 L357.50 555.86 L359.00 555.81 L360.50 555.76 L362.00 555.71 L363.50 555.65 L365.00 555.59 L366.50 555.52 L368.00 555.45 L369.50 555.37 L371.00 555.29 L372.50 555.21 L374.00 555.12 L375.50 555.02 L377.00 554.92 L378.50 554.81 L380.00 554.70 L381.50 554.58 L383.00 554.46 L384.50 554.32 L386.00 554.19 L387.50 554.05 L389.00 553.90 L390.50 553.75 L392.00 553.60 L393.50 553.44 L395.00 553.29 L396.50 553.13 L398.00 552.97 L399.50 552.82 L401.00 552.66 L402.50 552.51 L404.00 552.36 L405.50 552.21 L407.00 552.06 L408.50 551.92 L410.00 551.79 L411.50 551.66 L413.00 551.53 L414.50 551.41 L416.00 551.30 L417.50 551.19 L419.00 551.09 L420.50 551.00 L422.00 550.91 L423.50 550.82 L425.00 550.74 L426.50 550.66 L428.00 550.59 L429.50 550.52 L431.00 550.45 L432.50 550.39 L434.00 550.33 L435.50 550.27 L437.00 550.21 L438.50 550.16 L440.00 550.11 L441.50 550.06 L443.00 550.01 L444.50 549.97 L446.00 549.92 L447.50 549.88 L449.00 549.83 L450.50 549.79 L452.00 549.75 L453.50 549.70 L455.00 549.65 L456.50 549.60 L458.00 549.54 L459.50 549.48 L461.00 549.41 L462.50 549.34 L464.00 549.25 L465.50 549.15 L467.00 549.05 L468.50 548.93 L470.00 548.80 L471.50 548.65 L473.00 548.49 L474.50 548.31 L476.00 548.12 L477.50 547.91 L479.00 547.67 L480.50 547.42 L482.00 547.15 L483.50 546.86 L485.00 546.54 L486.50 546.21 L488.00 545.86 L489.50 545.49 L491.00 545.11 L492.50 544.70 L494.00 544.28 L495.50 543.85 L497.00 543.39 L498.50 542.93 L500.00 542.44 L501.50 541.95 L503.00 541.44 L504.50 540.92 L506.00 540.38 L507.50 539.84 L509.00 539.28 L510.50 538.71 L512.00 538.13 L513.50 537.54 L515.00 536.94 L516.50 536.33 L518.00 535.72 L519.50 535.10 L521.00 534.47 L522.50 533.84 L524.00 533.21 L525.50 532.58 L527.00 531.96 L528.50 531.33 L530.00 530.71 L531.50 530.09 L533.00 529.48 L534.50 528.88 L536.00 528.29 L537.50 527.71 L539.00 527.15 L540.50 526.59 L542.00 526.06 L543.50 525.53 L545.00 525.02 L546.50 524.52 L548.00 524.04 L549.50 523.57 L551.00 523.11 L552.50 522.67 L554.00 522.24 L555.50 521.82 L557.00 521.42 L558.50 521.03 L560.00 520.66 L561.50 520.30 L563.00 519.95 L564.50 519.62 L566.00 519.30 L567.50 519.00 L569.00 518.71 L570.50 518.44 L572.00 518.18 L573.50 517.93 L575.00 517.70 L576.50 517.48 L578.00 517.27 L579.50 517.08 L581.00 516.91 L582.50 516.75 L584.00 516.60 L585.50 516.47 L587.00 516.35 L588.50 516.25 L590.00 516.16 L591.50 516.08 L593.00 516.02 L594.50 515.96 L596.00 515.91 L597.50 515.87 L599.00 515.84 L600.50 515.81 L602.00 515.79 L603.50 515.77 L605.00 515.76 L606.50 515.75 L608.00 515.74 L609.50 515.73 L611.00 515.72 L612.50 515.70 L614.00 515.69 L615.50 515.67 L617.00 515.65 L618.50 515.62 L620.00 515.59 L621.50 515.55 L623.00 515.51 L624.50 515.46 L626.00 515.41 L627.50 515.35 L629.00 515.29 L630.50 515.22 L632.00 515.14 L633.50 515.06 L635.00 514.98 L636.50 514.89 L638.00 514.79 L639.50 514.69 L641.00 514.58 L642.50 514.46 L644.00 514.34 L645.50 514.21 L647.00 514.08 L648.50 513.94 L650.00 513.79 L651.50 513.64 L653.00 513.47 L654.50 513.30 L656.00 513.13 L657.50 512.95 L659.00 512.76 L660.50 512.56 L662.00 512.36 L663.50 512.15 L665.00 511.94 L666.50 511.72 L668.00 511.50 L669.50 511.27 L671.00 511.04 L672.50 510.81 L674.00 510.57 L675.50 510.33 L677.00 510.08 L678.50 509.83 L680.00 509.58 L681.50 509.33 L683.00 509.08 L684.50 508.82 L686.00 508.56 L687.50 508.30 L689.00 508.04 L690.50 507.78 L692.00 507.52 L693.50 507.26 L695.00 507.00 L696.50 506.74 L698.00 506.49 L699.50 506.23 L701.00 505.97 L702.50 505.72 L704.00 505.47 L705.50 505.22 L707.00 504.97 L708.50 504.72 L710.00 504.48 L711.50 504.24 L713.00 504.00 L714.50 503.76 L716.00 503.52 L717.50 503.29 L719.00 503.05 L720.50 502.82 L722.00 502.59 L723.50 502.36 L725.00 502.13 L726.50 501.90 L728.00 501.67 L729.50 501.44 L731.00 501.22 L732.50 500.99 L734.00 500.76 L735.50 500.53 L737.00 500.31 L738.50 500.08 L740.00 499.85 L741.50 499.62 L743.00 499.39 L744.50 499.16 L746.00 498.93 L747.50 498.70 L749.00 498.48 L750.50 498.25 L752.00 498.02 L753.50 497.79 L755.00 497.55 L756.50 497.32 L758.00 497.09 L759.50 496.86 L761.00 496.63 L762.50 496.40 L764.00 496.17 L765.50 495.93 L767.00 495.70 L768.50 495.47 L770.00 495.23 L771.50 495.00 L773.00 494.77 L774.50 494.53 L776.00 494.30 L777.50 494.06 L779.00 493.83 L780.50 493.59 L782.00 493.36 L783.50 493.12 L785.00 492.89 L786.50 492.65 L788.00 492.41 L789.50 492.18 L791.00 491.94 L792.50 491.70 L794.00 491.46 L795.50 491.22 L797.00 490.98 L798.50 490.74 L800.00 490.50 L801.50 490.26 L803.00 490.02 L804.50 489.78 L806.00 489.54 L807.50 489.30 L809.00 489.06 L810.50 488.82 L811.90 488.59" stroke="#003366" stroke-linecap="butt"/>
<path d="M99.50 555.70 L101.00 555.70 L102.50 555.70 L104.00 555.70 L105.50 555.69 L107.00 555.69 L108.50 555.69 L110.00 555.69 L111.50 555.69 L113.00 555.69 L114.50 555.68 L116.00 555.68 L117.50 555.68 L119.00 555.68 L120.50 555.68 L122.00 555.68 L123.50 555.68 L125.00 555.68 L126.50 555.68 L128.00 555.68 L129.50 555.68 L131.00 555.68 L132.50 555.68 L134.00 555.68 L135.50 555.68 L137.00 555.68 L138.50 555.68 L140.00 555.69 L141.50 555.69 L143.00 555.69 L144.50 555.69 L146.00 555.69 L147.50 555.69 L149.00 555.69 L150.50 555.69 L152.00 555.70 L153.50 555.70 L155.00 555.70 L156.50 555.70 L158.00 555.70 L159.50 555.70 L161.00 555.70 L162.50 555.71 L164.00 555.71 L165.50 555.71 L167.00 555.71 L168.50 555.71 L170.00 555.71 L171.50 555.72 L173.00 555.72 L174.50 555.72 L176.00 555.72 L177.50 555.72 L179.00 555.73 L180.50 555.73 L182.00 555.73 L183.50 555.73 L185.00 555.73 L186.50 555.73 L188.00 555.74 L189.50 555.74 L191.00 555.74 L192.50 555.74 L194.00 555.74 L195.50 555.74 L197.00 555.74 L198.50 555.74 L200.00 555.75 L201.50 555.75 L203.00 555.75 L204.50 555.75 L206.00 555.75 L207.50 555.75 L209.00 555.75 L210.50 555.75 L212.00 555.75 L213.50 555.75 L215.00 555.75 L216.50 555.75 L218.00 555.75 L219.50 555.75 L221.00 555.75 L222.50 555.75 L224.00 555.75 L225.50 555.75 L227.00 555.75 L228.50 555.75 L230.00 555.75 L231.50 555.75 L233.00 555.75 L234.50 555.75 L236.00 555.75 L237.50 555.75 L239.00 555.74 L240.50 555.74 L242.00 555.74 L243.50 555.74 L245.00 555.74 L246.50 555.73 L248.00 555.73 L249.50 555.73 L251.00 555.72 L252.50 555.72 L254.00 555.72 L255.50 555.71 L257.00 555.71 L258.50 555.71 L260.00 555.70 L261.50 555.70 L263.00 555.69 L264.50 555.69 L266.00 555.68 L267.50 555.68 L269.00 555.67 L270.50 555.67 L272.00 555.66 L273.50 555.65 L275.00 555.65 L276.50 555.64 L278.00 555.63 L279.50 555.63 L281.00 555.62 L282.50 555.61 L284.00 555.60 L285.50 555.59 L287.00 555.58 L288.50 555.58 L290.00 555.57 L291.50 555.56 L293.00 555.55 L294.50 555.54 L296.00 555.53 L297.50 555.52 L299.00 555.51 L300.50 555.49 L302.00 555.48 L303.50 555.47 L305.00 555.46 L306.50 555.44 L308.00 555.43 L309.50 555.41 L311.00 555.39 L312.50 555.37 L314.00 555.34 L315.50 555.31 L317.00 555.28 L318.50 555.25 L320.00 555.21 L321.50 555.17 L323.00 555.12 L324.50 555.07 L326.00 555.02 L327.50 554.96 L329.00 554.89 L330.50 554.82 L332.00 554.74 L333.50 554.66 L335.00 554.57 L336.50 554.47 L338.00 554.37 L339.50 554.25 L341.00 554.14 L342.50 554.01 L344.00 553.87 L345.50 553.73 L347.00 553.58 L348.50 553.41 L350.00 553.23 L351.50 553.02 L353.00 552.80 L354.50 552.55 L356.00 552.27 L357.50 551.95 L359.00 551.61 L360.50 551.22 L362.00 550.80 L363.50 550.34 L365.00 549.85 L366.50 549.32 L368.00 548.77 L369.50 548.20 L371.00 547.59 L372.50 546.97 L374.00 546.32 L375.50 545.66 L377.00 544.98 L378.50 544.29 L380.00 543.59 L381.50 542.88 L383.00 542.16 L384.50 541.44 L386.00 540.71 L387.50 539.98 L389.00 539.26 L390.50 538.54 L392.00 537.82 L393.50 537.10 L395.00 536.39 L396.50 535.69 L398.00 534.99 L399.50 534.30 L401.00 533.61 L402.50 532.94 L404.00 532.27 L405.50 531.61 L407.00 530.95 L408.50 530.31 L410.00 529.68 L411.50 529.06 L413.00 528.45 L414.50 527.85 L416.00 527.27 L417.50 526.70 L419.00 526.14 L420.50 525.60 L422.00 525.07 L423.50 524.56 L425.00 524.06 L426.50 523.58 L428.00 523.12 L429.50 522.67 L431.00 522.25 L432.50 521.85 L434.00 521.46 L435.50 521.10 L437.00 520.76 L438.50 520.45 L440.00 520.16 L441.50 519.89 L443.00 519.65 L444.50 519.43 L446.00 519.25 L447.50 519.09 L449.00 518.96 L450.50 518.85 L452.00 518.77 L453.50 518.71 L455.00 518.66 L456.50 518.62 L458.00 518.57 L459.50 518.53 L461.00 518.48 L462.50 518.42 L464.00 518.34 L465.50 518.24 L467.00 518.11 L468.50 517.94 L470.00 517.74 L471.50 517.50 L473.00 517.21 L474.50 516.86 L476.00 516.46 L477.50 516.00 L479.00 515.46 L480.50 514.86 L482.00 514.17 L483.50 513.42 L485.00 512.60 L486.50 511.73 L488.00 510.79 L489.50 509.80 L491.00 508.76 L492.50 507.68 L494.00 506.54 L495.50 505.35 L497.00 504.08 L498.50 502.73 L500.00 501.29 L501.50 499.77 L503.00 498.16 L504.50 496.48 L506.00 494.71 L507.50 492.86 L509.00 490.93 L510.50 488.92 L512.00 486.83 L513.50 484.69 L515.00 482.51 L516.50 480.32 L518.00 478.14 L519.50 475.97 L521.00 473.83 L522.50 471.72 L524.00 469.63 L525.50 467.57 L527.00 465.55 L528.50 463.57 L530.00 461.62 L531.50 459.72 L533.00 457.86 L534.50 456.04 L536.00 454.24 L537.50 452.46 L539.00 450.69 L540.50 448.94 L542.00 447.21 L543.50 445.49 L545.00 443.78 L546.50 442.10 L548.00 440.43 L549.50 438.79 L551.00 437.17 L552.50 435.59 L554.00 434.04 L555.50 432.53 L557.00 431.06 L558.50 429.63 L560.00 428.25 L561.50 426.91 L563.00 425.60 L564.50 424.34 L566.00 423.12 L567.50 421.94 L569.00 420.80 L570.50 419.69 L572.00 418.62 L573.50 417.58 L575.00 416.59 L576.50 415.62 L578.00 414.69 L579.50 413.80 L581.00 412.93 L582.50 412.10 L584.00 411.30 L585.50 410.53 L587.00 409.79 L588.50 409.08 L590.00 408.40 L591.50 407.74 L593.00 407.11 L594.50 406.51 L596.00 405.94 L597.50 405.38 L599.00 404.86 L600.50 404.35 L602.00 403.87 L603.50 403.41 L605.00 402.97 L606.50 402.55 L608.00 402.13 L609.50 401.73 L611.00 401.34 L612.50 400.96 L614.00 400.59 L615.50 400.21 L617.00 399.84 L618.50 399.47 L620.00 399.09 L621.50 398.71 L623.00 398.33 L624.50 397.93 L626.00 397.52 L627.50 397.10 L629.00 396.67 L630.50 396.22 L632.00 395.74 L633.50 395.25 L635.00 394.73 L636.50 394.19 L638.00 393.63 L639.50 393.04 L641.00 392.43 L642.50 391.80 L644.00 391.16 L645.50 390.49 L647.00 389.80 L648.50 389.10 L650.00 388.38 L651.50 387.64 L653.00 386.89 L654.50 386.12 L656.00 385.33 L657.50 384.54 L659.00 383.73 L660.50 382.91 L662.00 382.08 L663.50 381.23 L665.00 380.38 L666.50 379.52 L668.00 378.65 L669.50 377.77 L671.00 376.88 L672.50 375.99 L674.00 375.09 L675.50 374.19 L677.00 373.29 L678.50 372.38 L680.00 371.46 L681.50 370.54 L683.00 369.62 L684.50 368.69 L686.00 367.75 L687.50 366.80 L689.00 365.84 L690.50 364.87 L692.00 363.89 L693.50 362.90 L695.00 361.89 L696.50 360.88 L698.00 359.84 L699.50 358.80 L701.00 357.74 L702.50 356.67 L704.00 355.60 L705.50 354.51 L707.00 353.41 L708.50 352.30 L710.00 351.18 L711.50 350.06 L713.00 348.93 L714.50 347.79 L716.00 346.64 L717.50 345.49 L719.00 344.34 L720.50 343.18 L722.00 342.01 L723.50 340.84 L725.00 339.67 L726.50 338.50 L728.00 337.33 L729.50 336.15 L731.00 334.98 L732.50 333.80 L734.00 332.63 L735.50 331.46 L737.00 330.29 L738.50 329.12 L740.00 327.96 L741.50 326.79 L743.00 325.64 L744.50 324.49 L746.00 323.34 L747.50 322.20 L749.00 321.06 L750.50 319.93 L752.00 318.80 L753.50 317.67 L755.00 316.54 L756.50 315.42 L758.00 314.30 L759.50 313.18 L761.00 312.06 L762.50 310.95 L764.00 309.83 L765.50 308.71 L767.00 307.59 L768.50 306.47 L770.00 305.35 L771.50 304.22 L773.00 303.10 L774.50 301.97 L776.00 300.83 L777.50 299.69 L779.00 298.55 L780.50 297.41 L782.00 296.26 L783.50 295.11 L785.00 293.96 L786.50 292.80 L788.00 291.64 L789.50 290.48 L791.00 289.32 L792.50 288.16 L794.00 287.01 L795.50 285.85 L797.00 284.69 L798.50 283.53 L800.00 282.37 L801.50 281.22 L803.00 280.07 L804.50 278.92 L806.00 277.78 L807.50 276.63 L809.00 275.50 L810.50 274.36 L811.90 273.31" stroke="#0000FF" stroke-width="1.6" stroke-dasharray="11.4 8.7" stroke-linecap="butt"/>
</g>
<g>
<polygon points="804.30,6.28 820.00,6.28 804.30,22.73 820.00,22.73" fill="#00CC00"/>
<polygon points="810.83,479.28 821.27,484.15 819.87,495.58 808.56,497.78 802.97,487.71" fill="#003366"/>
<rect x="803.3" y="298.95" width="17.1" height="17.0" fill="#800080"/>
<polygon points="811.90,274.83 800.60,294.40 823.20,294.40" fill="#E6C800"/>
<polygon points="811.85,302.00 822.25,312.65 811.85,323.30 801.45,312.65" fill="#FF0000"/>
<circle cx="811.9" cy="273.3" r="9.2" fill="#0000FF"/>
</g>
<g stroke="#444444" stroke-width="1.1" fill="none" shape-rendering="auto">
<rect x="85.00" y="0.50" width="741.50" height="570.90"/>
<path d="M99.62 571.40 v-9.9 M99.62 0.50 v9.9"/>
<path d="M123.37 571.40 v-5.9 M123.37 0.50 v5.9"/>
<path d="M147.11 571.40 v-5.9 M147.11 0.50 v5.9"/>
<path d="M170.86 571.40 v-5.9 M170.86 0.50 v5.9"/>
<path d="M194.60 571.40 v-5.9 M194.60 0.50 v5.9"/>
<path d="M218.34 571.40 v-9.9 M218.34 0.50 v9.9"/>
<path d="M242.09 571.40 v-5.9 M242.09 0.50 v5.9"/>
<path d="M265.83 571.40 v-5.9 M265.83 0.50 v5.9"/>
<path d="M289.58 571.40 v-5.9 M289.58 0.50 v5.9"/>
<path d="M313.32 571.40 v-5.9 M313.32 0.50 v5.9"/>
<path d="M337.07 571.40 v-9.9 M337.07 0.50 v9.9"/>
<path d="M360.81 571.40 v-5.9 M360.81 0.50 v5.9"/>
<path d="M384.56 571.40 v-5.9 M384.56 0.50 v5.9"/>
<path d="M408.31 571.40 v-5.9 M408.31 0.50 v5.9"/>
<path d="M432.05 571.40 v-5.9 M432.05 0.50 v5.9"/>
<path d="M455.79 571.40 v-9.9 M455.79 0.50 v9.9"/>
<path d="M479.54 571.40 v-5.9 M479.54 0.50 v5.9"/>
<path d="M503.28 571.40 v-5.9 M503.28 0.50 v5.9"/>
<path d="M527.03 571.40 v-5.9 M527.03 0.50 v5.9"/>
<path d="M550.77 571.40 v-5.9 M550.77 0.50 v5.9"/>
<path d="M574.52 571.40 v-9.9 M574.52 0.50 v9.9"/>
<path d="M598.26 571.40 v-5.9 M598.26 0.50 v5.9"/>
<path d="M622.01 571.40 v-5.9 M622.01 0.50 v5.9"/>
<path d="M645.75 571.40 v-5.9 M645.75 0.50 v5.9"/>
<path d="M669.50 571.40 v-5.9 M669.50 0.50 v5.9"/>
<path d="M693.25 571.40 v-9.9 M693.25 0.50 v9.9"/>
<path d="M716.99 571.40 v-5.9 M716.99 0.50 v5.9"/>
<path d="M740.74 571.40 v-5.9 M740.74 0.50 v5.9"/>
<path d="M764.48 571.40 v-5.9 M764.48 0.50 v5.9"/>
<path d="M788.22 571.40 v-5.9 M788.22 0.50 v5.9"/>
<path d="M811.97 571.40 v-9.9 M811.97 0.50 v9.9"/>
<path d="M85.00 560.40 h9.9 M826.50 560.40 h-9.9"/>
<path d="M85.00 537.77 h5.9 M826.50 537.77 h-5.9"/>
<path d="M85.00 515.14 h5.9 M826.50 515.14 h-5.9"/>
<path d="M85.00 492.51 h5.9 M826.50 492.51 h-5.9"/>
<path d="M85.00 469.88 h9.9 M826.50 469.88 h-9.9"/>
<path d="M85.00 447.25 h5.9 M826.50 447.25 h-5.9"/>
<path d="M85.00 424.62 h5.9 M826.50 424.62 h-5.9"/>
<path d="M85.00 401.99 h5.9 M826.50 401.99 h-5.9"/>
<path d="M85.00 379.36 h9.9 M826.50 379.36 h-9.9"/>
<path d="M85.00 356.73 h5.9 M826.50 356.73 h-5.9"/>
<path d="M85.00 334.10 h5.9 M826.50 334.10 h-5.9"/>
<path d="M85.00 311.47 h5.9 M826.50 311.47 h-5.9"/>
<path d="M85.00 288.84 h9.9 M826.50 288.84 h-9.9"/>
<path d="M85.00 266.21 h5.9 M826.50 266.21 h-5.9"/>
<path d="M85.00 243.58 h5.9 M826.50 243.58 h-5.9"/>
<path d="M85.00 220.95 h5.9 M826.50 220.95 h-5.9"/>
<path d="M85.00 198.32 h9.9 M826.50 198.32 h-9.9"/>
<path d="M85.00 175.69 h5.9 M826.50 175.69 h-5.9"/>
<path d="M85.00 153.06 h5.9 M826.50 153.06 h-5.9"/>
<path d="M85.00 130.43 h5.9 M826.50 130.43 h-5.9"/>
<path d="M85.00 107.80 h9.9 M826.50 107.80 h-9.9"/>
<path d="M85.00 85.17 h5.9 M826.50 85.17 h-5.9"/>
<path d="M85.00 62.54 h5.9 M826.50 62.54 h-5.9"/>
<path d="M85.00 39.91 h5.9 M826.50 39.91 h-5.9"/>
<path d="M85.00 17.28 h9.9 M826.50 17.28 h-9.9"/>
</g>
<polygon points="811.85,302.00 822.25,312.65 811.85,323.30 801.45,312.65" fill="#FF0000"/>
<polygon points="810.83,479.28 821.27,484.15 819.87,495.58 808.56,497.78 802.97,487.71" fill="#003366"/>
<text transform="translate(99.62,599.30) scale(0.955,1)" font-size="24.00" text-anchor="middle" >0</text>
<text transform="translate(218.65,599.30) scale(0.955,1)" font-size="24.00" text-anchor="middle" >50</text>
<text transform="translate(337.37,599.30) scale(0.955,1)" font-size="24.00" text-anchor="middle" >100</text>
<text transform="translate(456.09,599.30) scale(0.955,1)" font-size="24.00" text-anchor="middle" >150</text>
<text transform="translate(574.82,599.30) scale(0.955,1)" font-size="24.00" text-anchor="middle" >200</text>
<text transform="translate(693.54,599.30) scale(0.955,1)" font-size="24.00" text-anchor="middle" >250</text>
<text transform="translate(811.27,599.30) scale(0.955,1)" font-size="24.00" text-anchor="middle" >300</text>
<text transform="translate(77.50,568.60) scale(0.955,1)" font-size="24.00" text-anchor="end" >0</text>
<text transform="translate(77.50,478.08) scale(0.955,1)" font-size="24.00" text-anchor="end" >20</text>
<text transform="translate(77.50,387.56) scale(0.955,1)" font-size="24.00" text-anchor="end" >40</text>
<text transform="translate(77.50,297.04) scale(0.955,1)" font-size="24.00" text-anchor="end" >60</text>
<text transform="translate(77.50,206.52) scale(0.955,1)" font-size="24.00" text-anchor="end" >80</text>
<text transform="translate(77.50,116.00) scale(0.955,1)" font-size="24.00" text-anchor="end" >100</text>
<text transform="translate(77.50,25.48) scale(0.955,1)" font-size="24.00" text-anchor="end" >120</text>
<text transform="translate(455.30,642.40) scale(1.000,1)" font-size="22.70" text-anchor="middle" xml:space="preserve" word-spacing="1">t  [a.u]</text>
<text transform="translate(20.2,291.2) rotate(-90) scale(0.95,1)" font-size="23.3" text-anchor="middle" xml:space="preserve" word-spacing="5.6">Standard deviation of z  [a.u.]</text>
<g stroke-width="1">
<circle cx="135" cy="32.9" r="9.3" fill="#0000FF" stroke="#0000b3"/>
<rect x="125.3" y="81.5" width="19.2" height="19.1" fill="#800080" stroke="#590059"/>
<polygon points="134.8,144 125.1,160.7 144.5,160.7" fill="#E6C800" stroke="#a18c00"/>
<polygon points="135.00,204.70 145.00,214.40 135.00,224.10 125.00,214.40" fill="#FF0000" stroke="#b30000"/>
<polygon points="125.00,267.00 145.00,267.00 125.00,286.40 145.00,286.40" fill="#00CC00" stroke="#008f00"/>
<polygon points="132.25,329.99 143.12,335.05 141.66,346.96 129.89,349.24 124.08,338.76" fill="#003366" stroke="#002447"/>
</g>
<text transform="translate(162.20,41.50) scale(1.035,1)" font-size="24.80" text-anchor="start" >3D−reference</text>
<text transform="translate(173.00,99.80) scale(1.000,1)" font-size="24.80" text-anchor="start" >V</text><text transform="translate(174.60,82.80) scale(1.000,1)" font-size="17.00" text-anchor="start" >~</text><text transform="translate(190.80,82.60) scale(1.060,1)" font-size="16.40" text-anchor="start" >1D</text><text x="191.4" y="105.2" font-size="16.4" xml:space="preserve" textLength="31.6" lengthAdjust="spacing">0, M</text>
<text transform="translate(224.60,99.80) scale(1.000,1)" font-size="24.80" text-anchor="start" >(z)</text>
<text transform="translate(174.40,161.50) scale(1.000,1)" font-size="24.80" text-anchor="start" >V</text><text transform="translate(192.20,144.30) scale(1.060,1)" font-size="16.40" text-anchor="start" >1D</text><text x="192.8" y="166.9" font-size="16.4" xml:space="preserve" textLength="57.4" lengthAdjust="spacing">0, M, Sc</text>
<text transform="translate(252.40,161.50) scale(1.000,1)" font-size="24.80" text-anchor="start" >(z)</text>
<text transform="translate(174.00,223.80) scale(1.000,1)" font-size="24.80" text-anchor="start" >V</text><text transform="translate(191.80,206.60) scale(1.060,1)" font-size="16.40" text-anchor="start" >1D</text><text x="192.4" y="229.2" font-size="16.4" xml:space="preserve" textLength="51.9" lengthAdjust="spacing">0, M, C</text>
<text transform="translate(246.00,223.80) scale(1.000,1)" font-size="24.80" text-anchor="start" >(z)</text>
<text transform="translate(174.40,285.50) scale(1.000,1)" font-size="24.80" text-anchor="start" >V</text><text transform="translate(192.20,268.30) scale(1.060,1)" font-size="16.40" text-anchor="start" >1D</text><text x="192.8" y="290.9" font-size="16.4" xml:space="preserve" textLength="33.8" lengthAdjust="spacing">0, Sc</text>
<text transform="translate(228.20,285.50) scale(1.000,1)" font-size="24.80" text-anchor="start" >(z)</text>
<text transform="translate(173.00,348.10) scale(1.000,1)" font-size="24.80" text-anchor="start" >V</text><text transform="translate(174.60,331.10) scale(1.000,1)" font-size="17.00" text-anchor="start" >~</text><text transform="translate(190.80,330.90) scale(1.060,1)" font-size="16.40" text-anchor="start" >1D</text><text x="191.4" y="353.5" font-size="16.4" xml:space="preserve" textLength="41.3" lengthAdjust="spacing">0, DD</text>
<text transform="translate(234.40,348.10) scale(1.000,1)" font-size="24.80" text-anchor="start" >(z)</text>
</svg></body></html>
